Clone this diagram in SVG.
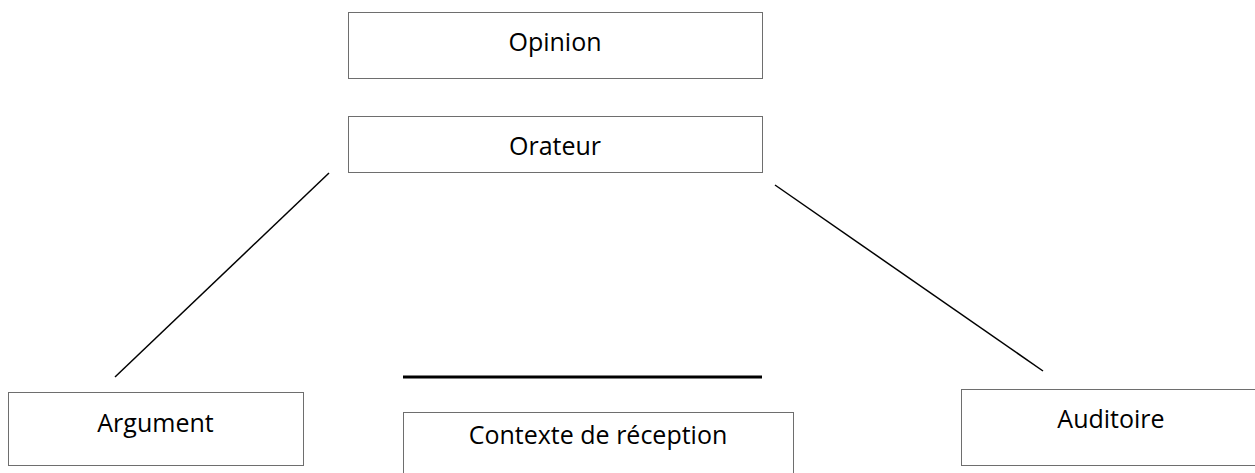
<svg xmlns="http://www.w3.org/2000/svg" width="1255" height="473" viewBox="0 0 1255 473">
<style>
.box{fill:#fff;stroke:#6e6e6e;stroke-width:1}
.lbl{font-family:"Open Sans","Liberation Sans",sans-serif;font-size:25px;fill:#000;text-anchor:middle}
.conn{stroke:#000;stroke-width:1.5;fill:none}
</style>
<rect width="1255" height="473" fill="#fff"/>
<g id="connectors">
<line class="conn" x1="329" y1="173" x2="115" y2="377"/>
<line class="conn" x1="775" y1="185" x2="1043" y2="371"/>
<line x1="403" y1="377" x2="762" y2="377" stroke="#000" stroke-width="3"/>
</g>
<g id="opinion">
<rect class="box" x="348.5" y="12.5" width="414" height="66"/>
<text class="lbl" x="555" y="51">Opinion</text>
</g>
<g id="orateur">
<rect class="box" x="348.5" y="116.5" width="414" height="56"/>
<text class="lbl" x="555" y="155">Orateur</text>
</g>
<g id="argument">
<rect class="box" x="8.5" y="392.5" width="295" height="73"/>
<text class="lbl" x="155.5" y="432">Argument</text>
</g>
<g id="contexte">
<rect class="box" x="403.5" y="412.5" width="390" height="70"/>
<text class="lbl" x="598" y="444">Contexte de réception</text>
</g>
<g id="auditoire">
<rect class="box" x="961.5" y="389.5" width="300" height="76"/>
<text class="lbl" x="1111" y="428">Auditoire</text>
</g>
</svg>
